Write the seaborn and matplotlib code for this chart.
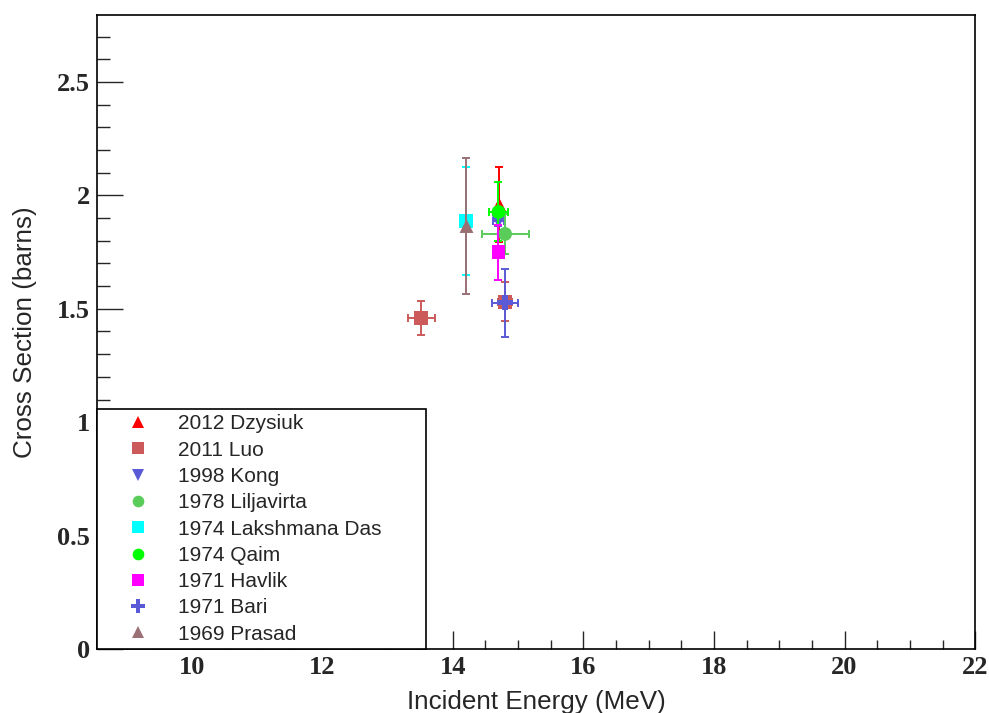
import matplotlib
matplotlib.use("Agg")
import matplotlib.pyplot as plt
import seaborn as sns
import pandas as pd
import numpy as np
from matplotlib.lines import Line2D
from matplotlib.ticker import MultipleLocator

sns.set_style("white")

# ---- data ----
series = ["2012 Dzysiuk", "2011 Luo", "1998 Kong", "1978 Liljavirta",
          "1974 Lakshmana Das", "1974 Qaim", "1971 Havlik", "1971 Bari", "1969 Prasad"]
colors = ["#ff0000", "#cc5a5a", "#5a5ad6", "#5acc5a", "#00ffff",
          "#00ff00", "#ff00ff", "#5a5ad6", "#9a7074"]
markers = ["^", "s", "v", "o", "s", "o", "s", "P", "^"]

energy = {
    "2012 Dzysiuk": [14.71],
    "2011 Luo": [13.52, 14.80],
    "1998 Kong": [14.70],
    "1978 Liljavirta": [14.80],
    "1974 Lakshmana Das": [14.20],
    "1974 Qaim": [14.70],
    "1971 Havlik": [14.70],
    "1971 Bari": [14.80],
    "1969 Prasad": [14.21],
}
energy_err = {
    "2012 Dzysiuk": [0.0],
    "2011 Luo": [0.20, 0.10],
    "1998 Kong": [0.08],
    "1978 Liljavirta": [0.36],
    "1974 Lakshmana Das": [0.05],
    "1974 Qaim": [0.14],
    "1971 Havlik": [0.0],
    "1971 Bari": [0.20],
    "1969 Prasad": [0.0],
}
xsec = {
    "2012 Dzysiuk": [1.96],
    "2011 Luo": [1.458, 1.53],
    "1998 Kong": [1.885],
    "1978 Liljavirta": [1.83],
    "1974 Lakshmana Das": [1.887],
    "1974 Qaim": [1.927],
    "1971 Havlik": [1.749],
    "1971 Bari": [1.527],
    "1969 Prasad": [1.865],
}
xsec_err = {
    "2012 Dzysiuk": [0.165],
    "2011 Luo": [0.075, 0.086],
    "1998 Kong": [0.02],
    "1978 Liljavirta": [0.09],
    "1974 Lakshmana Das": [0.24],
    "1974 Qaim": [0.13],
    "1971 Havlik": [0.12],
    "1971 Bari": [0.15],
    "1969 Prasad": [0.30],
}

rows = []
for s in series:
    for e, de, y, dy in zip(energy[s], energy_err[s], xsec[s], xsec_err[s]):
        rows.append(dict(series=s, E=e, dE=de, sigma=y, dsigma=dy))
df = pd.DataFrame(rows)

pal = dict(zip(series, colors))
mk = dict(zip(series, markers))

fig = plt.figure(figsize=(9.89, 7.13), dpi=100)
ax = fig.add_axes([0.098, 0.0898, 0.888, 0.889])

# each series: error bars then markers, later series on top
for i, s in enumerate(series):
    sub = df[df.series == s]
    ax.errorbar(sub.E, sub.sigma, xerr=sub.dE, yerr=sub.dsigma, fmt="none",
                ecolor=pal[s], elinewidth=1.4, capsize=3, capthick=1.4, zorder=2 + 2 * i)
    sns.scatterplot(data=sub, x="E", y="sigma", color=pal[s], marker=mk[s],
                    s=100 if mk[s] != "P" else 120, edgecolor="none", linewidth=0,
                    legend=False, ax=ax, zorder=3 + 2 * i)

ax.set_xlim(8.55, 22)
ax.set_ylim(0, 2.795)

ax.xaxis.set_major_locator(MultipleLocator(2))
ax.xaxis.set_minor_locator(MultipleLocator(0.5))
ax.yaxis.set_major_locator(MultipleLocator(0.5))
ax.yaxis.set_minor_locator(MultipleLocator(0.1))

ax.tick_params(axis="x", which="major", direction="in", length=13, width=1, pad=5,
               bottom=True, top=False)
ax.tick_params(axis="x", which="minor", direction="in", length=6.5, width=1,
               bottom=True, top=False)
ax.tick_params(axis="y", which="major", direction="in", length=18.7, width=1, pad=5,
               left=True, right=False)
ax.tick_params(axis="y", which="minor", direction="in", length=9.4, width=1,
               left=True, right=False)

def fmt(v, p):
    return ("%g" % v)
ax.xaxis.set_major_formatter(plt.FuncFormatter(fmt))
ax.yaxis.set_major_formatter(plt.FuncFormatter(fmt))
for lab in ax.get_xticklabels() + ax.get_yticklabels():
    lab.set_fontfamily("Liberation Serif")
    lab.set_fontweight("bold")
    lab.set_fontsize(19)

for sp in ax.spines.values():
    sp.set_color("black")
    sp.set_linewidth(1.2)

ax.set_xlabel("Incident Energy (MeV)", fontfamily="Liberation Sans", fontsize=18.7)
ax.set_ylabel("Cross Section (barns)", fontfamily="Liberation Sans", fontsize=18.7)
ax.xaxis.set_label_coords(0.5, -0.064)
ax.yaxis.set_label_coords(-0.068, 0.5)

handles = [Line2D([], [], linestyle="none", marker=mk[s], color=pal[s],
                  markersize=8.4 if mk[s] != "P" else 9.5, markeredgewidth=0, label=s)
           for s in series]
leg = ax.legend(handles=handles, loc="lower left", bbox_to_anchor=(0, 0, 0.375, 0.379),
                mode="expand", frameon=True, fancybox=False, borderaxespad=0,
                prop={"family": "Liberation Sans", "size": 15}, labelspacing=0.35,
                handletextpad=0.2, borderpad=0.25, handlelength=3.44)
leg.get_frame().set_edgecolor("black")
leg.get_frame().set_linewidth(1.2)
leg.get_frame().set_alpha(1)
leg.set_zorder(50)

fig.savefig("out.png", dpi=100)
